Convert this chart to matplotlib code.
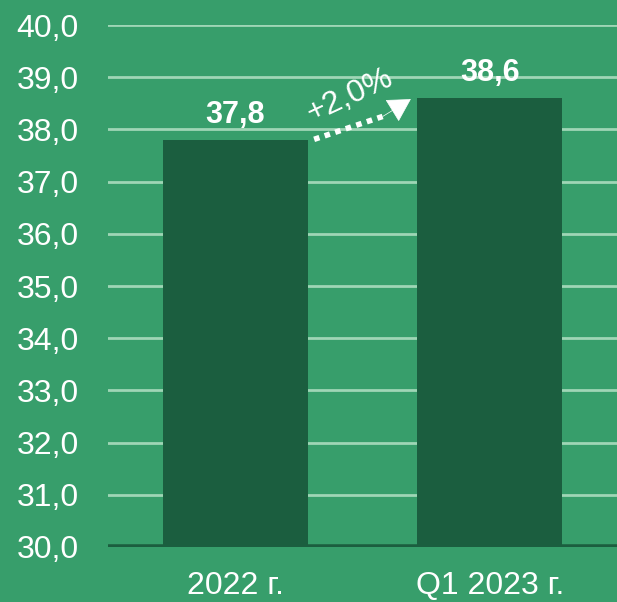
import matplotlib.pyplot as plt

plt.rcParams['font.family'] = ['Liberation Sans', 'DejaVu Sans']

# данные
categories = ['2022 г.', 'Q1 2023 г.']
values = [37.8, 38.6]
value_labels = ['37,8', '38,6']
change_label = '+2,0%'
y_ticks = [30, 31, 32, 33, 34, 35, 36, 37, 38, 39, 40]

bg = '#379e6b'
bar_color = '#1b5e3f'

fig = plt.figure(figsize=(6.17, 6.02), dpi=100, facecolor=bg)
ax = fig.add_axes([0.175, 0.0914, 0.825, 0.867], facecolor=bg)

x = list(range(len(categories)))
ax.set_xlim(-0.5, 1.5)
ax.set_ylim(30, 40)

# сетка
for t in y_ticks[1:]:
    ax.axhline(t, color='#9fd6b6', lw=2, zorder=1)

ax.bar(x, values, width=0.57, color=bar_color, zorder=2)
ax.axhline(30, color=bar_color, lw=4, zorder=3)

for xi, v, lab in zip(x, values, value_labels):
    ax.annotate(lab, (xi, v), xytext=(0, 7), textcoords='offset points',
                ha='center', va='bottom', color='white', fontsize=22, fontweight='bold')

# стрелка роста: пунктир + наконечник
ax.plot([0.31, 0.58], [37.81, 38.25], color='white', lw=4,
        linestyle=(0, (1.0, 1.0)), dash_capstyle='butt', zorder=4)
ax.annotate('', xy=(0.69, 38.58), xytext=(0.58, 38.25),
            arrowprops=dict(arrowstyle='-|>,head_length=1.5,head_width=0.85',
                            color='white', lw=0.5, shrinkA=0, shrinkB=0), zorder=4)
ax.text(0.45, 38.64, change_label, rotation=25, color='white', fontsize=23,
        ha='center', va='center', rotation_mode='anchor')

ax.set_xticks(x)
ax.set_xticklabels(categories)
ax.set_yticks(y_ticks)
ax.set_yticklabels([f'{t:.1f}'.replace('.', ',') for t in y_ticks])
ax.tick_params(colors='white', labelsize=23, length=0)
ax.tick_params(axis='x', pad=17)
ax.tick_params(axis='y', pad=21)
for s in ax.spines.values():
    s.set_visible(False)

plt.savefig('out.png', dpi=100, facecolor=bg)
